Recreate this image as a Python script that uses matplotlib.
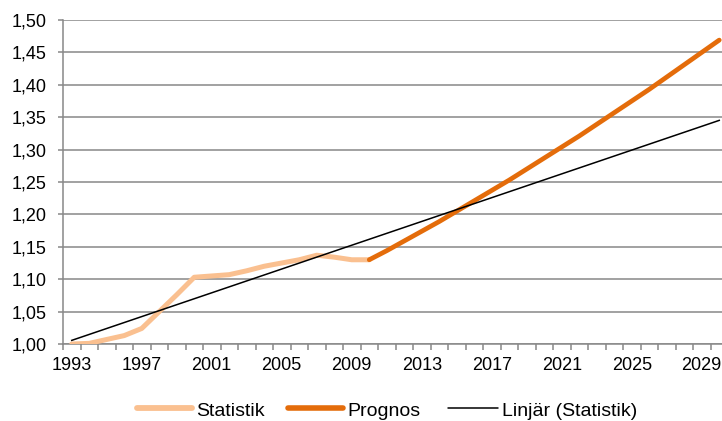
import numpy as np
import matplotlib
matplotlib.use("Agg")
import matplotlib.pyplot as plt
from matplotlib.lines import Line2D
from matplotlib.ticker import FuncFormatter, MultipleLocator

# Index series, base year 1993 = 1,00
stat_years = list(range(1993, 2011))
statistik = [1.000, 1.001, 1.007, 1.013, 1.024, 1.050, 1.076, 1.103, 1.105,
             1.107, 1.113, 1.120, 1.125, 1.130, 1.137, 1.134, 1.130, 1.130]

prog_years = list(range(2010, 2031))
prognos = [1.130, 1.144, 1.159, 1.174, 1.189, 1.205, 1.221, 1.237, 1.253,
           1.270, 1.287, 1.304, 1.321, 1.339, 1.357, 1.375, 1.393, 1.412,
           1.431, 1.450, 1.469]

all_years = list(range(1993, 2031))
label_years = [1993, 1997, 2001, 2005, 2009, 2013, 2017, 2021, 2025, 2029]
series_names = ["Statistik", "Prognos", "Linjär (Statistik)"]

c_stat = "#FAC090"
c_prog = "#E46C0A"
c_grid = "#888888"

plt.rcParams["font.family"] = ["Liberation Sans", "DejaVu Sans"]

W, H = 722, 421
fig = plt.figure(figsize=(W / 100, H / 100), dpi=100)
ax = fig.add_axes([63 / W, (H - 344) / H, 665 / W, 324 / H])

# Linear trend fitted to the historical series, extended over the whole period
coef = np.polyfit(stat_years, statistik, 1)
trend = np.polyval(coef, all_years)

lw_stat, lw_prog, lw_trend = 3.6, 3.4, 1.1
ax.plot(stat_years, statistik, color=c_stat, lw=lw_stat, solid_capstyle="round",
        solid_joinstyle="round", zorder=3)
ax.plot(prog_years, prognos, color=c_prog, lw=lw_prog, solid_capstyle="round",
        solid_joinstyle="round", zorder=4)
ax.plot(all_years, trend, color="black", lw=lw_trend, zorder=5)

ax.set_xlim(1992.5, 2030.5)
ax.set_ylim(1.0, 1.5)
ax.yaxis.set_major_locator(MultipleLocator(0.05))
ax.yaxis.set_major_formatter(FuncFormatter(lambda v, p: f"{v:.2f}".replace(".", ",")))
ax.grid(axis="y", color=c_grid, lw=1.1)
ax.set_axisbelow(True)

ax.set_xticks(label_years)
ax.set_xticklabels([str(y) for y in label_years])
ax.set_xticks(np.arange(1992.5, 2031, 1.0), minor=True)
ax.tick_params(axis="x", which="major", length=0, pad=9.5, labelsize=13, colors="black")
ax.tick_params(axis="x", which="minor", length=4.5, width=1.1, color=c_grid, direction="out")
ax.tick_params(axis="y", length=3.6, width=1.1, color=c_grid, labelsize=13, pad=8)

for s in ["top", "right"]:
    ax.spines[s].set_visible(False)
for s in ["left", "bottom"]:
    ax.spines[s].set_color(c_grid)
    ax.spines[s].set_linewidth(1.1)

# Legend row below the axis, laid out in pixel positions
legend_items = [
    (series_names[0], c_stat, lw_stat + 0.6, 137, 192, 196),
    (series_names[1], c_prog, lw_prog + 0.6, 288, 343, 347),
    (series_names[2], "black", lw_trend, 448, 498, 502),
]
y_line = H - 408
y_text = H - 415.5
for name, col, lw, x0, x1, xt in legend_items:
    fig.add_artist(Line2D([x0 / W, x1 / W], [y_line / H, y_line / H], color=col, lw=lw,
                          solid_capstyle="round", transform=fig.transFigure))
    fig.text(xt / W, y_text / H, name, fontsize=14, ha="left", va="baseline")

fig.savefig("out.png", dpi=100)
